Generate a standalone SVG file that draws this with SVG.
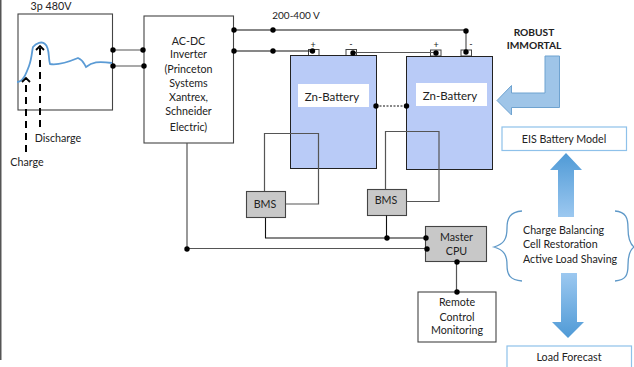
<svg xmlns="http://www.w3.org/2000/svg" width="634" height="367" viewBox="0 0 634 367">
<defs>
<linearGradient id="up" x1="0" y1="0" x2="0" y2="1"><stop offset="0" stop-color="#4f9ad6"/><stop offset="1" stop-color="#9cc8f0"/></linearGradient>
<linearGradient id="down" x1="0" y1="0" x2="0" y2="1"><stop offset="0" stop-color="#9cc8f0"/><stop offset="1" stop-color="#4f9ad6"/></linearGradient>
<marker id="open" markerWidth="10" markerHeight="10" refX="7" refY="5" orient="auto" markerUnits="userSpaceOnUse" viewBox="0 0 10 10"><path d="M3 1L7 5L3 9" fill="none" stroke="#000" stroke-width="1.800"/></marker>
</defs>
<style>
text{font-family:Lato,"Open Sans","Liberation Sans",sans-serif;font-size:10.700px;fill:#222;text-anchor:middle}
.box{fill:#fff;stroke:#444;stroke-width:1.100}
.bms{fill:#c8c8c8;stroke:#444;stroke-width:1.100}
.bat{fill:#b9cbf7;stroke:#222;stroke-width:1}
.w{fill:none;stroke:#555;stroke-width:1.200}
.k{fill:none;stroke:#111;stroke-width:1.100}
.term{fill:#fff;stroke:#444;stroke-width:1}
.blue{fill:#fff;stroke:#8ec1ea;stroke-width:1.200}
.brace{fill:none;stroke:#5f99c8;stroke-width:1.300}
.dot{fill:#000}
</style>
<rect x="0" y="0" width="1.500" height="360" fill="#555"/>
<g id="grid-box">
<rect class="box" x="18" y="14" width="94.500" height="96"/>
<text x="51" y="10">3p 480V</text>
</g>
<g id="inverter">
<rect class="box" x="144" y="16" width="89.500" height="127"/>
<text x="188.500" y="45">AC-DC</text>
<text x="188.500" y="58">Inverter</text>
<text x="188.500" y="73">(Princeton</text>
<text x="188.500" y="87">Systems</text>
<text x="188.500" y="101">Xantrex,</text>
<text x="188.500" y="115">Schneider</text>
<text x="188.500" y="131">Electric)</text>
</g>
<g id="battery-1">
<rect class="term" x="308.500" y="49.500" width="10.500" height="6"/>
<rect class="term" x="346" y="49.500" width="10.500" height="6"/>
<rect class="bat" x="290.500" y="55.500" width="86" height="113"/>
<rect x="298" y="84" width="71" height="23" fill="#fff"/>
<text x="332" y="101" style="font-size:11.500px">Zn-Battery</text>
<text x="313" y="48" style="font-size:9px">+</text>
<text x="351" y="47" style="font-size:9px">-</text>
</g>
<g id="battery-2">
<rect class="term" x="430.500" y="50" width="10.500" height="6"/>
<rect class="term" x="461" y="50" width="10.500" height="6"/>
<rect class="bat" x="406.500" y="56.500" width="86" height="113"/>
<rect x="416" y="83" width="71" height="23" fill="#fff"/>
<text x="450" y="100" style="font-size:11.500px">Zn-Battery</text>
<text x="436" y="48" style="font-size:9px">+</text>
<text x="471" y="47" style="font-size:9px">-</text>
</g>
<g id="bms-1">
<rect class="bms" x="246.500" y="191.500" width="39" height="26"/>
<text x="265" y="208">BMS</text>
</g>
<g id="bms-2">
<rect class="bms" x="367.500" y="189.500" width="39" height="26"/>
<text x="386" y="204">BMS</text>
</g>
<g id="master-cpu">
<rect class="bms" x="425.500" y="226.500" width="61" height="35"/>
<text x="456.500" y="241">Master</text>
<text x="456.500" y="255">CPU</text>
</g>
<g id="remote">
<rect class="box" x="418" y="292" width="78" height="50"/>
<text x="457" y="306">Remote</text>
<text x="457" y="321">Control</text>
<text x="457" y="334">Monitoring</text>
</g>
<g id="eis-model">
<rect class="blue" x="502" y="127" width="124.500" height="23.500"/>
<text x="564" y="143">EIS Battery Model</text>
</g>
<g id="load-forecast">
<rect class="blue" x="507" y="346" width="124.500" height="24"/>
<text x="569" y="361">Load Forecast</text>
</g>
<g id="balancing">
<path class="brace" d="M522 211C510 212 507 218 507 228C507 239 504 244 494 247C504 250 507 255 507 265C507 275 510 280 522 281"/>
<path class="brace" d="M615 211C626 212 628 218 628 228C628 239 630 244 634 247C630 250 628 255 628 265C628 275 626 280 615 281"/>
<text x="523" y="234" style="text-anchor:start">Charge Balancing</text>
<text x="523" y="248" style="text-anchor:start">Cell Restoration</text>
<text x="523" y="263" style="text-anchor:start">Active Load Shaving</text>
</g>
<g id="robust">
<text x="534" y="36" style="font-weight:700;font-size:10.200px">ROBUST</text>
<text x="534" y="49" style="font-weight:700;font-size:10.200px">IMMORTAL</text>
<path d="M545 56H559.500V107.500H511.500V115L497 100.500L511.500 85.500V93H545Z" fill="#9fc5e8" stroke="#6fa3d0" stroke-width="1"/>
</g>
<g id="arrows">
<path d="M558 217V170H550L566 153L582 170H574V217Z" fill="url(#up)"/>
<path d="M561 273V322H552L568 338L584 322H577V273Z" fill="url(#down)"/>
</g>
<g id="connectors">
<path class="w" d="M113 50H143M113 66H144"/>
<path class="k" d="M234 30H466M234 51H313"/>
<path class="w" d="M353 52.500H436"/>
<path class="w" d="M466 30V52"/>
<path class="k" d="M376 106H406" stroke-dasharray="2 1.500"/>
<path class="w" d="M187 143V248.500H426"/>
<path class="w" d="M264.500 191V133.500H318.500V204H285.500"/>
<path class="w" d="M385.500 189V131.500H439V201.500H406.500"/>
<path class="k" d="M265.500 218V238H426M386.500 215.500V238"/>
<path class="w" d="M456.500 262V292"/>
<circle class="dot" cx="113" cy="50" r="2.700"/><circle class="dot" cx="113" cy="66" r="2.700"/>
<circle class="dot" cx="143" cy="50" r="2.700"/><circle class="dot" cx="144" cy="66" r="2.700"/>
<circle class="dot" cx="234" cy="30" r="2.700"/><circle class="dot" cx="234" cy="51" r="2.700"/>
<circle class="dot" cx="273" cy="30" r="2.700"/><circle class="dot" cx="273" cy="51" r="2.700"/>
<circle class="dot" cx="466" cy="31" r="2.700"/><circle class="dot" cx="466" cy="52" r="2.700"/>
<circle class="dot" cx="312.500" cy="51" r="2.700"/><circle class="dot" cx="353" cy="53" r="2.700"/><circle class="dot" cx="436" cy="53" r="2.700"/>
<circle class="dot" cx="376" cy="106" r="2.700"/><circle class="dot" cx="406.500" cy="106" r="2.700"/>
<circle class="dot" cx="187" cy="249" r="2.700"/><circle class="dot" cx="387" cy="238" r="2.700"/>
<circle class="dot" cx="426" cy="238" r="2.700"/><circle class="dot" cx="427" cy="249" r="2.700"/>
<circle class="dot" cx="457" cy="262" r="2.700"/><circle class="dot" cx="457" cy="292" r="2.700"/>
</g>
<g id="curve">
<path d="M17 82C23 82 26 74 29 66C32 58 32 50 33 47C36 43 42 41 45 44C50 48 48 58 50 64C56 65 66 63 78 58C83 60 83 62 86 67C92 62 98 61 112 63" fill="none" stroke="#5b9bd5" stroke-width="1.800"/>
<path d="M26 152V78" fill="none" stroke="#000" stroke-width="2" stroke-dasharray="7 5" marker-end="url(#open)"/>
<path d="M40 127V46" fill="none" stroke="#000" stroke-width="2" stroke-dasharray="7 5" marker-end="url(#open)"/>
<text x="58" y="142">Discharge</text>
<text x="27" y="166">Charge</text>
</g>
<text x="296" y="19" style="font-size:10px">200-400 V</text>
</svg>
